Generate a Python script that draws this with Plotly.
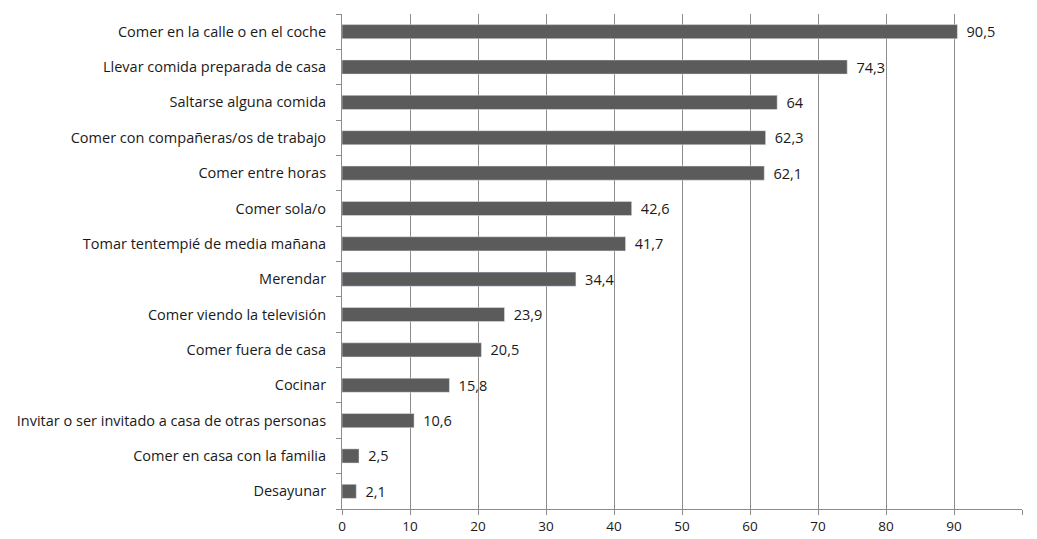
import plotly.graph_objects as go

categorias = [
    "Comer en la calle o en el coche",
    "Llevar comida preparada de casa",
    "Saltarse alguna comida",
    "Comer con compañeras/os de trabajo",
    "Comer entre horas",
    "Comer sola/o",
    "Tomar tentempié de media mañana",
    "Merendar",
    "Comer viendo la televisión",
    "Comer fuera de casa",
    "Cocinar",
    "Invitar o ser invitado a casa de otras personas",
    "Comer en casa con la familia",
    "Desayunar",
]
valores = [90.5, 74.3, 64, 62.3, 62.1, 42.6, 41.7, 34.4, 23.9, 20.5, 15.8, 10.6, 2.5, 2.1]
x_ticks = list(range(0, 101, 10))
x_tick_labels = ["0", "10", "20", "30", "40", "50", "60", "70", "80", "90", "100"]

# de abajo hacia arriba
cats = categorias[::-1]
vals = valores[::-1]
etiquetas = ["\u00a0\u2009" + f"{v:g}".replace(".", ",") for v in vals]

# el "100" se corta en el borde derecho: un espacio al final lo desplaza un poco
tick_text = x_tick_labels[:-1] + [x_tick_labels[-1] + "\u2007"]

fig = go.Figure(
    go.Bar(
        x=vals,
        y=cats,
        orientation="h",
        marker_color="#5b5b5b",
        width=0.4,
        text=etiquetas,
        textposition="outside",
        constraintext="none",
        textfont=dict(size=14.5, color="#1a1a1a"),
        cliponaxis=False,
    )
)

# la página tiene 8px de margen en el body
fig.update_layout(
    width=1029,
    height=531,
    margin=dict(l=334, r=15, t=6, b=30),
    plot_bgcolor="white",
    paper_bgcolor="white",
    font=dict(family="Open Sans, Liberation Sans, sans-serif", size=14.5, color="#1a1a1a"),
    showlegend=False,
)
fig.update_xaxes(
    range=[0, 100],
    tickvals=x_ticks,
    ticktext=tick_text,
    tickfont=dict(size=13.5),
    showgrid=True,
    gridcolor="#8c8c8c",
    gridwidth=1,
    showline=True,
    linecolor="#8c8c8c",
    ticks="outside",
    ticklen=5,
    tickcolor="#8c8c8c",
    zeroline=False,
    automargin=False,
)
fig.update_yaxes(
    showline=True,
    linecolor="#8c8c8c",
    ticks="outside",
    tickson="boundaries",
    ticklen=5,
    tickcolor="#8c8c8c",
    showgrid=False,
    ticklabelstandoff=12,
    automargin=False,
)

fig.write_html("out.html")
